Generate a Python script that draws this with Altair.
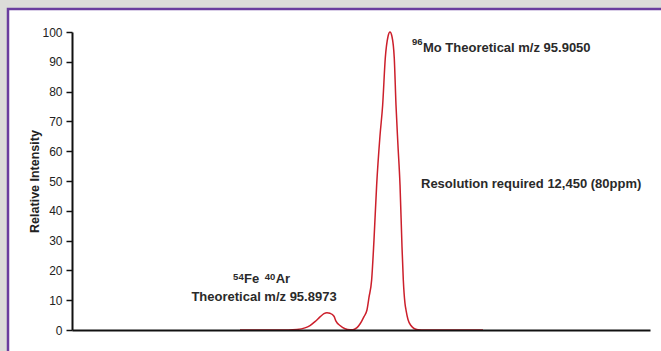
import altair as alt
import pandas as pd

# Spectrum trace (m/z, relative intensity)
mz = [95.88676, 95.89162, 95.89369, 95.89466, 95.89527, 95.89588, 95.89649, 95.89697,
      95.89734, 95.89770, 95.89819, 95.89843, 95.89892, 95.89953, 95.90014, 95.90050,
      95.90099, 95.90135, 95.90184, 95.90220, 95.90245, 95.90277, 95.90305, 95.90338,
      95.90378, 95.90411, 95.90443, 95.90476, 95.90500, 95.90524, 95.90552, 95.90573,
      95.90597, 95.90622, 95.90646, 95.90662, 95.90682, 95.90695, 95.90719, 95.90755,
      95.90792, 95.90840, 95.90926, 95.91631]
intensity = [0, 0, 0.2, 0.7, 1.5, 2.8, 4.4, 5.5,
             5.8, 5.6, 4.6, 3.0, 1.5, 0.4, 0.05, 0.1,
             0.8, 2.0, 4.5, 6.7, 11, 16.8, 30, 48.7,
             65, 75.5, 91.3, 98.5, 100, 98.5, 91.3, 75.5,
             62, 48.7, 28, 16.8, 9, 6.7, 3.5, 1.5,
             0.5, 0.1, 0, 0]

x_domain = [95.86633, 95.93662]
y_ticks = [0, 10, 20, 30, 40, 50, 60, 70, 80, 90, 100]

# Annotations: main text runs
main_text = ["Mo Theoretical m/z 95.9050", "Resolution required 12,450 (80ppm)",
             "Fe", "Ar", "Theoretical m/z 95.8973"]
main_x = [95.90901, 95.90877, 95.88725, 95.89110, 95.88968]
main_y = [94.6, 49.0, 17.1, 17.1, 11.1]
main_align = ["left", "left", "left", "left", "center"]

# Superscript mass numbers (right-aligned just before the element symbol)
sup_text = ["96", "54", "40"]
sup_x = [95.90897, 95.88721, 95.89106]
sup_y = [96.6, 17.9, 17.9]

df = pd.DataFrame({"mz": mz, "intensity": intensity})
lab = pd.DataFrame({"text": main_text, "x": main_x, "y": main_y, "align": main_align})
sup = pd.DataFrame({"text": sup_text, "x": sup_x, "y": sup_y})

xs = alt.Scale(domain=x_domain, nice=False, zero=False)
ys = alt.Scale(domain=[0, 100], nice=False)

x_axis = alt.Axis(title=None, labels=False, ticks=False, grid=False,
                  domainColor="#111111", domainWidth=2, zindex=1)
y_axis = alt.Axis(title="Relative Intensity", values=y_ticks, grid=False,
                  labelOverlap=False,
                  domainColor="#111111", domainWidth=2, zindex=1,
                  tickColor="#111111", tickWidth=1.5, tickSize=6,
                  labelFont="Liberation Sans", labelFontSize=12,
                  labelColor="#222222", labelPadding=4,
                  titleFont="Liberation Sans", titleFontSize=12.5,
                  titleFontWeight="bold", titleColor="#222222",
                  titlePadding=0)

frame = alt.Chart(pd.DataFrame({"a": [0]})).mark_rect(
    fill="white", stroke="#6a3d9e", strokeWidth=2.5
).encode(
    x=alt.value(-64), x2=alt.value(620), y=alt.value(-23), y2=alt.value(340)
)

line = alt.Chart(df).mark_line(
    color="#cc1f2b", strokeWidth=1.5, interpolate="monotone"
).encode(
    x=alt.X("mz:Q", scale=xs, axis=x_axis),
    y=alt.Y("intensity:Q", scale=ys, axis=y_axis),
)

texts_left = alt.Chart(lab[lab["align"] == "left"]).mark_text(
    align="left", baseline="middle", font="Liberation Sans", fontSize=13,
    fontWeight="bold", color="#2a2a2a"
).encode(x=alt.X("x:Q", scale=xs, axis=x_axis), y=alt.Y("y:Q", scale=ys, axis=y_axis),
         text="text:N")

texts_center = alt.Chart(lab[lab["align"] == "center"]).mark_text(
    align="center", baseline="middle", font="Liberation Sans", fontSize=13,
    fontWeight="bold", color="#2a2a2a"
).encode(x=alt.X("x:Q", scale=xs, axis=x_axis), y=alt.Y("y:Q", scale=ys, axis=y_axis),
         text="text:N")

texts_sup = alt.Chart(sup).mark_text(
    align="right", baseline="middle", font="Liberation Sans", fontSize=9.5,
    fontWeight="bold", color="#2a2a2a"
).encode(x=alt.X("x:Q", scale=xs, axis=x_axis), y=alt.Y("y:Q", scale=ys, axis=y_axis),
         text="text:N")

chart = alt.layer(frame, line, texts_left, texts_center, texts_sup).properties(
    width=578, height=298,
    autosize=alt.AutoSizeParams(type="none"),
    padding={"left": 72, "top": 32, "right": 11, "bottom": 21},
    background="#dcdcd9",
).configure_view(stroke=None)

chart.save("out.html", embed_options={"renderer": "svg", "actions": False})
